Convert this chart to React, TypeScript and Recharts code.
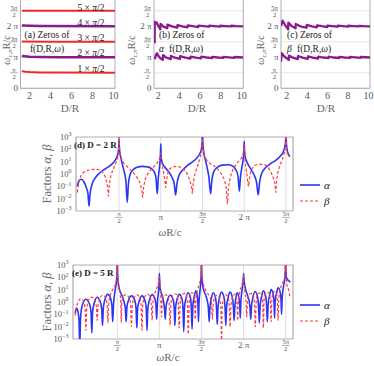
import React from 'react';
import { LineChart, Line, XAxis, YAxis, CartesianGrid, ReferenceArea } from 'recharts';

const PI = Math.PI;
const FONT = '"Liberation Serif", "Times New Roman", Times, serif';
const TICK_C = '#555555';
const LABEL_C = '#666666';
const TEXT_C = '#222222';
const FRAME_C = '#9a9a9a';
const GRID_C = '#d8d8d8';
const RED = '#ee2b2b';
const PURPLE = '#8b1a8f';
const BLUE = '#2a35f5';
const BETA_RED = '#ff3d3d';

// ---- ticks ----
const dTicks = [2, 4, 6, 8, 10];
const zeroTicks = [0, PI / 2, PI, (3 * PI) / 2, 2 * PI, (5 * PI) / 2];
const zeroTickLabels = ['0', 'π/2', 'π', '3π/2', '2 π', '5π/2'];
const omegaTicks = [PI / 2, PI, (3 * PI) / 2, 2 * PI, (5 * PI) / 2];
const omegaTickLabels = ['π/2', 'π', '3π/2', '2 π', '5π/2'];
const factorTicks = [0.001, 0.01, 0.1, 1, 10, 100, 1000];
const factorTickExps = ['−3', '−2', '−1', '0', '1', '2', '3'];

type Pt = [number, number];

// ---- panel (a): zeros of f(D,R,ω)  [D/R, ω R/c] ----
const zerosF1: Pt[] = [[1.28, 1.75], [1.6, 1.68], [2, 1.64], [3, 1.61], [5, 1.59], [10.15, 1.58]];
const zerosF2: Pt[] = [[1.28, 3.27], [2, 3.2], [3, 3.17], [5, 3.15], [10.15, 3.14]];
const zerosF3: Pt[] = [[1.28, 4.74], [4, 4.725], [10.15, 4.72]];
const zerosF4: Pt[] = [[1.28, 6.36], [3, 6.32], [10.15, 6.3]];
const zerosF5: Pt[] = [[1.28, 7.87], [10.15, 7.86]];

// ---- panel (b): zeros of α f ----
const zerosAlphaLow: Pt[] = [
  [1.66, 2.94], [1.78, 3.38], [1.88, 3.55], [2.0, 3.3], [2.2, 3.04], [2.44, 2.88], [2.46, 3.37], [2.8, 3.1],
  [3.2, 2.95], [3.22, 3.28], [3.6, 3.1], [4.08, 2.98], [4.1, 3.25], [4.6, 3.1], [5.08, 3.01], [5.1, 3.21],
  [5.6, 3.11], [6.1, 3.04], [6.12, 3.2], [6.65, 3.12], [7.15, 3.06], [7.17, 3.19], [7.7, 3.12], [8.22, 3.08],
  [8.24, 3.18], [8.75, 3.13], [9.28, 3.09], [9.3, 3.17], [10.15, 3.12],
];
const zerosAlphaHigh: Pt[] = [
  [1.65, 4.56], [1.66, 6.75], [1.75, 6.55], [1.85, 6.68], [2.0, 6.3], [2.2, 5.98], [2.22, 6.52], [2.5, 6.25],
  [2.86, 6.08], [2.88, 6.45], [3.3, 6.27], [3.82, 6.14], [3.84, 6.41], [4.3, 6.28], [4.8, 6.18], [4.82, 6.38],
  [5.3, 6.29], [5.82, 6.21], [5.84, 6.36], [6.35, 6.3], [6.87, 6.24], [6.89, 6.35], [7.4, 6.3], [7.92, 6.26],
  [7.94, 6.34], [8.45, 6.3], [8.97, 6.27], [8.99, 6.34], [9.5, 6.3], [10.15, 6.28],
];

// ---- panel (c): zeros of β f ----
const zerosBetaLow: Pt[] = [
  [1.44, 2.7], [1.5, 3.55], [1.8, 3.2], [2.2, 2.88], [2.22, 3.32], [2.6, 3.1], [3.08, 2.95], [3.1, 3.27],
  [3.55, 3.11], [4.06, 2.99], [4.08, 3.24], [4.55, 3.11], [5.06, 3.02], [5.08, 3.21], [5.58, 3.12], [6.08, 3.05],
  [6.1, 3.2], [6.6, 3.12], [7.12, 3.07], [7.14, 3.19], [7.65, 3.12], [8.18, 3.08], [8.2, 3.18], [8.7, 3.13],
  [9.22, 3.09], [9.24, 3.17], [10.15, 3.12],
];
const zerosBetaHigh: Pt[] = [
  [1.44, 6.31], [1.6, 6.85], [1.85, 6.4], [2.14, 5.98], [2.16, 6.65], [2.5, 6.3], [2.86, 6.08], [2.88, 6.52],
  [3.4, 6.26], [3.94, 6.14], [3.96, 6.42], [4.45, 6.28], [4.95, 6.18], [4.97, 6.38], [5.45, 6.29], [5.96, 6.21],
  [5.98, 6.36], [6.48, 6.3], [6.98, 6.24], [7.0, 6.35], [7.5, 6.3], [8.0, 6.26], [8.02, 6.34], [8.52, 6.3],
  [9.03, 6.27], [9.05, 6.33], [9.55, 6.3], [10.15, 6.28],
];

// ---- panel (d): D = 2R, [ωR/c, log10 factor] ----
const alphaD2: Pt[] = [
  [0.0, -1.0], [0.06, -0.55], [0.15, -0.42], [0.25, -0.65], [0.33, -1.05], [0.4, -1.6], [0.44, -2.6], [0.48, -1.6],
  [0.55, -0.85], [0.68, -0.3], [0.85, 0.1], [1.0, 0.35], [1.15, 0.55], [1.3, 0.8], [1.42, 1.1], [1.5, 1.45],
  [1.545, 1.85], [1.563, 2.3], [1.571, 2.8], [1.579, 2.3], [1.6, 1.8], [1.64, 1.3], [1.7, 0.75], [1.77, 0.15],
  [1.83, -0.6], [1.88, -2.3], [1.92, -0.9], [1.98, -0.1], [2.08, 0.3], [2.25, 0.55], [2.45, 0.62], [2.65, 0.58],
  [2.8, 0.42], [2.9, 0.15], [2.96, -0.3], [3.01, -1.6], [3.05, -0.3], [3.1, 0.7], [3.128, 1.5], [3.1416, 2.45],
  [3.155, 1.5], [3.19, 0.95], [3.3, 0.55], [3.45, 0.15], [3.57, -0.3], [3.65, -0.8], [3.7, -1.7], [3.75, -0.8],
  [3.83, -0.1], [3.98, 0.35], [4.15, 0.7], [4.35, 1.0], [4.5, 1.3], [4.6, 1.6], [4.67, 2.0], [4.7, 2.6],
  [4.712, 3.5], [4.724, 2.6], [4.76, 1.75], [4.82, 1.15], [4.89, 0.5], [4.95, -0.2], [5.02, -1.6], [5.06, -0.6],
  [5.13, 0.15], [5.25, 0.5], [5.45, 0.72], [5.7, 0.75], [5.88, 0.6], [5.98, 0.3], [6.05, -0.2], [6.1, -1.4],
  [6.14, -0.3], [6.2, 0.6], [6.25, 1.3], [6.272, 2.0], [6.283, 2.65], [6.294, 2.0], [6.32, 1.4], [6.4, 0.9],
  [6.53, 0.4], [6.66, -0.1], [6.75, -0.7], [6.81, -1.7], [6.86, -0.7], [6.94, 0.05], [7.08, 0.5], [7.28, 0.85],
  [7.47, 1.1], [7.62, 1.4], [7.73, 1.7], [7.8, 2.1], [7.84, 2.6], [7.854, 3.5], [7.868, 2.6], [7.9, 1.95],
  [7.95, 1.6], [8.0, 1.4],
];
const betaD2: Pt[] = [
  [0.0, -1.5], [0.03, -1.0], [0.08, -0.5], [0.15, -0.1], [0.25, 0.15], [0.4, 0.3], [0.55, 0.38], [0.7, 0.38],
  [0.85, 0.3], [0.97, 0.1], [1.05, -0.25], [1.11, -0.7], [1.15, -1.3], [1.17, -1.8], [1.19, -1.2], [1.23, -0.5],
  [1.3, 0.1], [1.38, 0.55], [1.45, 0.9], [1.51, 1.3], [1.55, 1.9], [1.565, 2.6], [1.571, 3.5], [1.578, 2.6],
  [1.59, 2.0], [1.63, 1.5], [1.72, 1.0], [1.85, 0.65], [2.0, 0.35], [2.15, 0.0], [2.28, -0.4], [2.38, -0.9],
  [2.44, -1.5], [2.46, -1.9], [2.48, -1.4], [2.55, -0.5], [2.65, 0.0], [2.8, 0.4], [2.95, 0.75], [3.05, 1.05],
  [3.1, 1.3], [3.13, 1.55], [3.1416, 1.7], [3.15, 1.5], [3.18, 0.9], [3.23, 0.3], [3.28, -0.3], [3.31, -0.8],
  [3.33, -1.1], [3.35, -0.7], [3.4, 0.0], [3.5, 0.45], [3.65, 0.6], [3.8, 0.6], [3.95, 0.45], [4.08, 0.2],
  [4.18, -0.2], [4.26, -0.7], [4.31, -1.2], [4.33, -1.6], [4.35, -1.1], [4.4, -0.3], [4.47, 0.3], [4.55, 0.8],
  [4.62, 1.3], [4.67, 1.8], [4.7, 2.6], [4.712, 3.5], [4.725, 2.6], [4.76, 1.7], [4.85, 1.2], [5.0, 0.85],
  [5.15, 0.65], [5.3, 0.35], [5.45, -0.1], [5.55, -0.6], [5.61, -1.2], [5.65, -2.4], [5.69, -1.2], [5.76, -0.3],
  [5.85, 0.3], [5.97, 0.75], [6.08, 1.05], [6.18, 1.3], [6.24, 1.6], [6.27, 2.0], [6.283, 2.4], [6.295, 1.8],
  [6.32, 1.0], [6.36, 0.3], [6.4, -0.3], [6.43, -0.8], [6.45, -1.0], [6.47, -0.6], [6.52, 0.1], [6.6, 0.5],
  [6.75, 0.75], [6.95, 0.78], [7.1, 0.7], [7.22, 0.4], [7.32, 0.0], [7.4, -0.5], [7.45, -1.0], [7.47, -1.5],
  [7.49, -0.9], [7.54, 0.0], [7.62, 0.6], [7.7, 1.1], [7.78, 1.6], [7.83, 2.2], [7.854, 3.5], [7.875, 2.2],
  [7.92, 1.6], [7.97, 1.45], [8.02, 1.4],
];

// ---- panel (e): D = 5R, [ωR/c, log10 factor] ----
const alphaD5: Pt[] = [
  [0.0, -0.9], [0.05, -0.5], [0.1, -0.75], [0.14, -1.4], [0.17, -3.5], [0.2, -1.3], [0.26, -0.3], [0.4, 0.22],
  [0.54, -0.2], [0.59, -0.8], [0.62, -2.5], [0.65, -0.8], [0.71, -0.1], [0.82, 0.38], [0.94, 0.0], [0.99, -0.6],
  [1.02, -1.9], [1.05, -0.5], [1.11, 0.2], [1.21, 0.62], [1.32, 0.3], [1.37, -0.3], [1.4, -1.6], [1.43, -0.2],
  [1.48, 0.8], [1.53, 1.5], [1.556, 2.1], [1.571, 3.5], [1.586, 2.1], [1.61, 1.5], [1.66, 0.95], [1.74, 0.55],
  [1.82, 0.05], [1.87, -0.5], [1.9, -1.6], [1.93, -0.4], [1.99, 0.15], [2.1, 0.5], [2.22, 0.15], [2.27, -0.5],
  [2.3, -2.1], [2.33, -0.5], [2.39, 0.1], [2.49, 0.5], [2.6, 0.15], [2.65, -0.5], [2.68, -2.3], [2.71, -0.5],
  [2.77, 0.15], [2.87, 0.6], [2.97, 0.3], [3.01, -0.2], [3.04, -1.4], [3.07, 0.0], [3.11, 0.9], [3.132, 1.7],
  [3.1416, 2.3], [3.152, 1.7], [3.18, 1.0], [3.24, 0.55], [3.3, 0.0], [3.33, -0.5], [3.36, -1.4], [3.39, -0.4],
  [3.45, 0.2], [3.55, 0.55], [3.66, 0.15], [3.69, -0.4], [3.72, -1.9], [3.75, -0.4], [3.8, 0.2], [3.89, 0.62],
  [3.99, 0.2], [4.02, -0.4], [4.05, -2.4], [4.08, -0.4], [4.13, 0.25], [4.21, 0.75], [4.3, 0.35], [4.33, -0.3],
  [4.36, -2.2], [4.39, -0.3], [4.44, 0.4], [4.5, 0.9], [4.56, 0.4], [4.58, -0.2], [4.6, -1.6], [4.62, -0.1],
  [4.66, 1.0], [4.69, 1.8], [4.704, 2.5], [4.712, 3.5], [4.72, 2.5], [4.74, 1.7], [4.78, 1.1], [4.86, 0.6],
  [4.93, 0.1], [4.97, -0.5], [5.0, -1.6], [5.03, -0.4], [5.08, 0.3], [5.15, 0.75], [5.24, 0.3], [5.27, -0.4],
  [5.3, -1.8], [5.33, -0.4], [5.38, 0.3], [5.46, 0.8], [5.56, 0.3], [5.59, -0.4], [5.62, -1.9], [5.65, -0.4],
  [5.7, 0.3], [5.78, 0.8], [5.87, 0.3], [5.9, -0.3], [5.93, -1.5], [5.96, -0.3], [6.0, 0.4], [6.05, 0.75],
  [6.11, 0.3], [6.14, -0.2], [6.16, -1.3], [6.18, -0.1], [6.22, 0.9], [6.26, 1.6], [6.275, 2.0], [6.283, 2.3],
  [6.291, 2.0], [6.31, 1.6], [6.35, 1.1], [6.42, 0.6], [6.49, 0.1], [6.52, -0.4], [6.55, -1.4], [6.58, -0.3],
  [6.63, 0.35], [6.71, 0.85], [6.81, 0.35], [6.84, -0.3], [6.87, -1.7], [6.9, -0.3], [6.95, 0.4], [7.02, 0.9],
  [7.11, 0.45], [7.14, -0.2], [7.17, -1.6], [7.2, -0.2], [7.25, 0.5], [7.31, 1.0], [7.39, 0.6], [7.42, 0.0],
  [7.44, -1.3], [7.46, 0.0], [7.51, 0.7], [7.57, 1.15], [7.65, 0.8], [7.68, 0.2], [7.7, -1.0], [7.72, 0.2],
  [7.76, 1.1], [7.8, 1.6], [7.83, 2.1], [7.846, 2.6], [7.854, 3.5], [7.862, 2.6], [7.88, 2.0], [7.93, 1.8],
  [7.98, 1.7], [8.03, 1.6],
];
const betaD5: Pt[] = [
  [0.0, -1.1], [0.04, -0.5], [0.1, -0.05], [0.2, 0.25], [0.32, 0.05], [0.37, -0.6], [0.4, -2.3], [0.43, -0.6],
  [0.49, 0.1], [0.61, 0.4], [0.74, 0.15], [0.79, -0.4], [0.82, -1.5], [0.85, -0.4], [0.91, 0.25], [1.02, 0.55],
  [1.14, 0.35], [1.19, -0.3], [1.22, -1.7], [1.25, -0.2], [1.31, 0.55], [1.4, 1.0], [1.48, 1.3], [1.535, 1.75],
  [1.558, 2.3], [1.571, 3.5], [1.584, 2.3], [1.61, 1.7], [1.64, 1.2], [1.68, 0.55], [1.7, 0.0], [1.72, -1.7],
  [1.74, -0.1], [1.79, 0.45], [1.9, 0.6], [2.02, 0.3], [2.07, -0.3], [2.1, -2.0], [2.13, -0.3], [2.19, 0.3],
  [2.3, 0.6], [2.41, 0.3], [2.46, -0.3], [2.49, -2.3], [2.52, -0.3], [2.58, 0.35], [2.69, 0.65], [2.8, 0.4],
  [2.84, -0.2], [2.87, -1.5], [2.9, -0.1], [2.96, 0.6], [3.04, 1.1], [3.1, 1.5], [3.1416, 2.0], [3.17, 1.2],
  [3.19, 0.5], [3.22, -1.2], [3.25, 0.2], [3.31, 0.6], [3.42, 0.55], [3.5, 0.0], [3.54, -1.9], [3.58, 0.0],
  [3.65, 0.55], [3.76, 0.65], [3.84, 0.1], [3.88, -2.1], [3.92, 0.0], [3.99, 0.6], [4.1, 0.7], [4.18, 0.15],
  [4.22, -2.6], [4.26, 0.1], [4.33, 0.75], [4.41, 0.7], [4.45, 0.2], [4.48, -1.4], [4.51, 0.3], [4.57, 1.0],
  [4.64, 1.5], [4.69, 2.1], [4.712, 3.5], [4.735, 2.1], [4.78, 1.5], [4.86, 1.0], [4.96, 0.65], [5.05, 0.3],
  [5.09, -0.2], [5.12, -1.4], [5.15, -0.2], [5.21, 0.4], [5.32, 0.55], [5.41, 0.1], [5.44, -0.8], [5.46, -3.5],
  [5.48, -0.8], [5.52, 0.15], [5.62, 0.6], [5.72, 0.2], [5.75, -0.4], [5.78, -2.0], [5.81, -0.4], [5.87, 0.35],
  [5.96, 0.65], [6.02, 0.2], [6.04, -0.3], [6.06, -1.5], [6.08, -0.2], [6.14, 0.8], [6.21, 1.3], [6.26, 1.8],
  [6.283, 2.2], [6.3, 1.6], [6.33, 0.9], [6.37, 0.2], [6.4, -1.2], [6.43, 0.2], [6.49, 0.6], [6.6, 0.7],
  [6.68, 0.2], [6.72, -2.0], [6.76, 0.2], [6.83, 0.7], [6.93, 0.72], [6.99, 0.2], [7.02, -2.1], [7.05, 0.2],
  [7.12, 0.75], [7.22, 0.75], [7.28, 0.2], [7.31, -1.6], [7.34, 0.2], [7.41, 0.85], [7.5, 0.8], [7.54, 0.2],
  [7.57, -1.5], [7.6, 0.3], [7.67, 1.2], [7.75, 1.6], [7.81, 2.0], [7.854, 3.5], [7.875, 2.2], [7.9, 1.4],
  [7.96, 1.0], [8.02, 0.3],
];

// ---- helpers ----
const asXY = (pts: Pt[]) => pts.map(([x, y]) => ({ x, y }));
const asLogXY = (pts: Pt[]) => pts.map(([x, e]) => ({ x, y: Math.pow(10, e) }));

function nearestIndex(list: number[], v: number) {
  let best = 0;
  for (let i = 0; i < list.length; i++) {
    if (Math.abs(list[i] - v) < Math.abs(list[best] - v)) best = i;
  }
  return best;
}

const txt = { fontFamily: FONT, fill: TICK_C } as const;

const ZeroYTick = (props: any) => {
  const { x, y, payload } = props;
  const label = zeroTickLabels[nearestIndex(zeroTicks, payload.value)];
  if (label.includes('/')) {
    const [num, den] = label.split('/');
    const cx = x - 6.5;
    return (
      <g>
        <text x={cx} y={y - 1.3} textAnchor="middle" fontSize={6.5} {...txt}>{num}</text>
        <line x1={cx - 3.6} x2={cx + 3.6} y1={y} y2={y} stroke={TICK_C} strokeWidth={0.5} />
        <text x={cx} y={y + 6} textAnchor="middle" fontSize={6.5} {...txt}>{den}</text>
      </g>
    );
  }
  return (
    <text x={x - 2.5} y={y} dy="0.35em" textAnchor="end" fontSize={9} {...txt}>{label}</text>
  );
};

const DTick = (props: any) => {
  const { x, y, payload } = props;
  return (
    <text x={x} y={y + 7} dy="0.35em" textAnchor="middle" fontSize={10} {...txt}>{payload.value}</text>
  );
};

const FactorYTick = (props: any) => {
  const { x, y, payload } = props;
  const exp = factorTickExps[nearestIndex(factorTicks.map(Math.log10), Math.log10(payload.value))];
  return (
    <text x={x - 4.5} y={y} dy="0.35em" textAnchor="end" fontSize={8.5} {...txt}>
      10<tspan dy={-3.5} fontSize={6}>{exp}</tspan>
    </text>
  );
};

const OmegaXTick = (props: any) => {
  const { x, y, payload } = props;
  const label = omegaTickLabels[nearestIndex(omegaTicks, payload.value)];
  if (label.includes('/')) {
    const [num, den] = label.split('/');
    return (
      <g>
        <text x={x} y={y + 5} textAnchor="middle" fontSize={6.5} {...txt}>{num}</text>
        <line x1={x - 3.6} x2={x + 3.6} y1={y + 6.4} y2={y + 6.4} stroke={TICK_C} strokeWidth={0.5} />
        <text x={x} y={y + 12} textAnchor="middle" fontSize={6.5} {...txt}>{den}</text>
      </g>
    );
  }
  return (
    <text x={x} y={y + 6} dy="0.35em" textAnchor="middle" fontSize={9} {...txt}>{label}</text>
  );
};

type Series = { pts: Pt[]; color: string; w: number; dash?: string };

function ZeroPanel({ left, width, axisWidth, right, domain, series }: {
  left: number; width: number; axisWidth: number; right: number; domain: [number, number]; series: Series[];
}) {
  const H = 125;
  return (
    <div style={{ position: 'absolute', left, top: -5, width, height: H }}>
      <LineChart width={width} height={H} margin={{ top: 0.3, right, bottom: 18.7, left: 0 }}>
        <CartesianGrid vertical={false} stroke={GRID_C} strokeWidth={0.7} />
        <XAxis dataKey="x" type="number" domain={domain} ticks={dTicks} allowDataOverflow height={13}
          tickSize={0} tickMargin={0} axisLine={false} tickLine={false} tick={<DTick />} interval={0} />
        <YAxis type="number" domain={[0, 3 * PI]} ticks={zeroTicks} allowDataOverflow width={axisWidth}
          tickSize={0} tickMargin={0} axisLine={false} tickLine={false} tick={<ZeroYTick />} interval={0} />
        {series.map((s, i) => (
          <Line key={i} data={asXY(s.pts)} dataKey="y" type="linear" stroke={s.color} strokeWidth={s.w}
            dot={false} activeDot={false} isAnimationActive={false} strokeLinejoin="round" />
        ))}
        <ReferenceArea x1={domain[0]} x2={domain[1]} y1={0} y2={3 * PI} fill="none" fillOpacity={0}
          stroke={FRAME_C} strokeWidth={0.8} ifOverflow="visible" />
      </LineChart>
    </div>
  );
}

function FactorPanel({ top, height, marginTop, marginBottom, axisWidth, domain, alpha, beta }: {
  top: number; height: number; marginTop: number; marginBottom: number; axisWidth: number;
  domain: [number, number]; alpha: Pt[]; beta: Pt[];
}) {
  const W = 374;
  return (
    <div style={{ position: 'absolute', left: 0, top, width: W, height }}>
      <LineChart width={W} height={height} margin={{ top: marginTop, right: 81, bottom: marginBottom, left: 0 }}>
        <CartesianGrid horizontal={false} stroke="#cfcfcf" strokeWidth={0.7} />
        <XAxis dataKey="x" type="number" domain={domain} ticks={omegaTicks} allowDataOverflow height={14}
          tickSize={0} tickMargin={0} axisLine={false} tickLine={false} tick={<OmegaXTick />} interval={0} />
        <YAxis type="number" scale="log" domain={[0.001, 1000]} ticks={factorTicks} allowDataOverflow width={axisWidth}
          tickSize={0} tickMargin={0} axisLine={false} tickLine={false} tick={<FactorYTick />} interval={0} />
        <Line data={asLogXY(alpha)} dataKey="y" type="monotone" stroke={BLUE} strokeWidth={1.6}
          dot={false} activeDot={false} isAnimationActive={false} />
        <Line data={asLogXY(beta)} dataKey="y" type="monotone" stroke={BETA_RED} strokeWidth={1.2}
          strokeDasharray="3 2" dot={false} activeDot={false} isAnimationActive={false} />
        <ReferenceArea x1={domain[0]} x2={domain[1]} y1={0.001} y2={1000} fill="none" fillOpacity={0}
          stroke={FRAME_C} strokeWidth={0.8} ifOverflow="visible" />
      </LineChart>
    </div>
  );
}

const YLabelOmega = ({ x, y }: { x: number; y: number }) => (
  <text x={x} y={y} transform={`rotate(-90 ${x} ${y})`} textAnchor="middle" dy="0.35em" fontSize={10}
    fontFamily={FONT} fill={LABEL_C}>
    <tspan fontStyle="italic">ω</tspan>
    <tspan fontSize={7} dy={2.5} fontStyle="italic">c,n</tspan>
    <tspan dy={-2.5}>R/c</tspan>
  </text>
);

const FactorsLabel = ({ x, y }: { x: number; y: number }) => (
  <text x={x} y={y} transform={`rotate(-90 ${x} ${y})`} textAnchor="middle" dy="0.35em" fontSize={12.5}
    fontFamily={FONT} fill={LABEL_C}>
    Factors <tspan fontStyle="italic">α</tspan>, <tspan fontStyle="italic">β</tspan>
  </text>
);

const OmegaLabel = ({ x, y }: { x: number; y: number }) => (
  <text x={x} y={y} textAnchor="middle" dy="0.35em" fontSize={11} fontFamily={FONT} fill={LABEL_C}>
    <tspan fontStyle="italic">ω</tspan>R/c
  </text>
);

const LegendBox = ({ y1, y2 }: { y1: number; y2: number }) => (
  <g fontFamily={FONT}>
    <line x1={300} x2={320} y1={y1} y2={y1} stroke={BLUE} strokeWidth={1.6} />
    <text x={324} y={y1} dy="0.35em" fontSize={11} fontStyle="italic" fill={TEXT_C}>α</text>
    <line x1={300} x2={320} y1={y2} y2={y2} stroke={BETA_RED} strokeWidth={1.2} strokeDasharray="3 2" />
    <text x={324} y={y2} dy="0.35em" fontSize={11} fontStyle="italic" fill={TEXT_C}>β</text>
  </g>
);

const multLabels = ['1', '2', '3', '4', '5'];
const multLabelY = [69, 52.7, 37.3, 22.7, 7.3];

export default function App() {
  return (
    <div style={{ position: 'absolute', left: 0, top: 0, width: 374, height: 366, background: '#fff', overflow: 'hidden' }}>
      <ZeroPanel left={0} width={130} axisWidth={20.5} right={15} domain={[1.15, 10.15]}
        series={[
          { pts: zerosF1, color: RED, w: 2 },
          { pts: zerosF2, color: PURPLE, w: 2.5 },
          { pts: zerosF3, color: RED, w: 2 },
          { pts: zerosF4, color: PURPLE, w: 2.5 },
          { pts: zerosF5, color: RED, w: 2 },
        ]} />
      <ZeroPanel left={125} width={125} axisWidth={29} right={6.7} domain={[1.59, 10.15]}
        series={[
          { pts: zerosAlphaLow, color: PURPLE, w: 2.3 },
          { pts: zerosAlphaHigh, color: PURPLE, w: 2.3 },
        ]} />
      <ZeroPanel left={250} width={124} axisWidth={31} right={4} domain={[1.44, 10.15]}
        series={[
          { pts: zerosBetaLow, color: PURPLE, w: 2.3 },
          { pts: zerosBetaHigh, color: PURPLE, w: 2.3 },
        ]} />
      <FactorPanel top={125} height={115} marginTop={12} marginBottom={15} axisWidth={76}
        domain={[-0.05, 8.12]} alpha={alphaD2} beta={betaD2} />
      <FactorPanel top={250} height={116} marginTop={15} marginBottom={13} axisWidth={73}
        domain={[-0.082, 8.127]} alpha={alphaD5} beta={betaD5} />

      <svg width={374} height={366} style={{ position: 'absolute', left: 0, top: 0, pointerEvents: 'none' }}>
        {/* panel (a) */}
        <YLabelOmega x={6} y={50} />
        <text x={70} y={108} dy="0.35em" textAnchor="middle" fontSize={11} fontFamily={FONT} fill={LABEL_C}>D/R</text>
        <text x={47} y={35} dy="0.35em" textAnchor="middle" fontSize={9.5} fontFamily={FONT} fill={TEXT_C}>(a) Zeros of</text>
        <text x={47} y={49} dy="0.35em" textAnchor="middle" fontSize={9.5} fontFamily={FONT} fill={TEXT_C}>
          f(D,R,<tspan fontStyle="italic">ω</tspan>)
        </text>
        {multLabels.map((m, i) => (
          <text key={m} x={91} y={multLabelY[i]} dy="0.35em" textAnchor="middle" fontSize={9.5} fontFamily={FONT} fill={TEXT_C}>
            {m} × <tspan fontStyle="italic">π</tspan>/2
          </text>
        ))}
        {/* panel (b) */}
        <YLabelOmega x={131} y={50} />
        <text x={197} y={108} dy="0.35em" textAnchor="middle" fontSize={11} fontFamily={FONT} fill={LABEL_C}>D/R</text>
        <text x={159} y={35} dy="0.35em" fontSize={9.5} fontFamily={FONT} fill={TEXT_C}>(b) Zeros of</text>
        <text x={159} y={49} dy="0.35em" fontSize={9.5} fontFamily={FONT} fill={TEXT_C}>
          <tspan fontStyle="italic">α</tspan>
          <tspan x={169}>f(D,R,</tspan><tspan fontStyle="italic">ω</tspan>)
        </text>
        {/* panel (c) */}
        <YLabelOmega x={260} y={50} />
        <text x={326} y={108} dy="0.35em" textAnchor="middle" fontSize={11} fontFamily={FONT} fill={LABEL_C}>D/R</text>
        <text x={287} y={35} dy="0.35em" fontSize={9.5} fontFamily={FONT} fill={TEXT_C}>(c) Zeros of</text>
        <text x={287} y={49} dy="0.35em" fontSize={9.5} fontFamily={FONT} fill={TEXT_C}>
          <tspan fontStyle="italic">β</tspan>
          <tspan x={297}>f(D,R,</tspan><tspan fontStyle="italic">ω</tspan>)
        </text>
        {/* panel (d) */}
        <FactorsLabel x={47} y={174} />
        <OmegaLabel x={170} y={232} />
        <text x={74} y={145} dy="0.35em" fontSize={9} fontWeight="bold" fontFamily={FONT} fill={TEXT_C}>(d) D = 2 R</text>
        <LegendBox y1={185} y2={201} />
        {/* panel (e) */}
        <FactorsLabel x={47} y={302} />
        <OmegaLabel x={168} y={357} />
        <text x={72} y={273} dy="0.35em" fontSize={9} fontWeight="bold" fontFamily={FONT} fill={TEXT_C}>(e) D = 5 R</text>
        <LegendBox y1={305} y2={321} />
      </svg>
    </div>
  );
}
